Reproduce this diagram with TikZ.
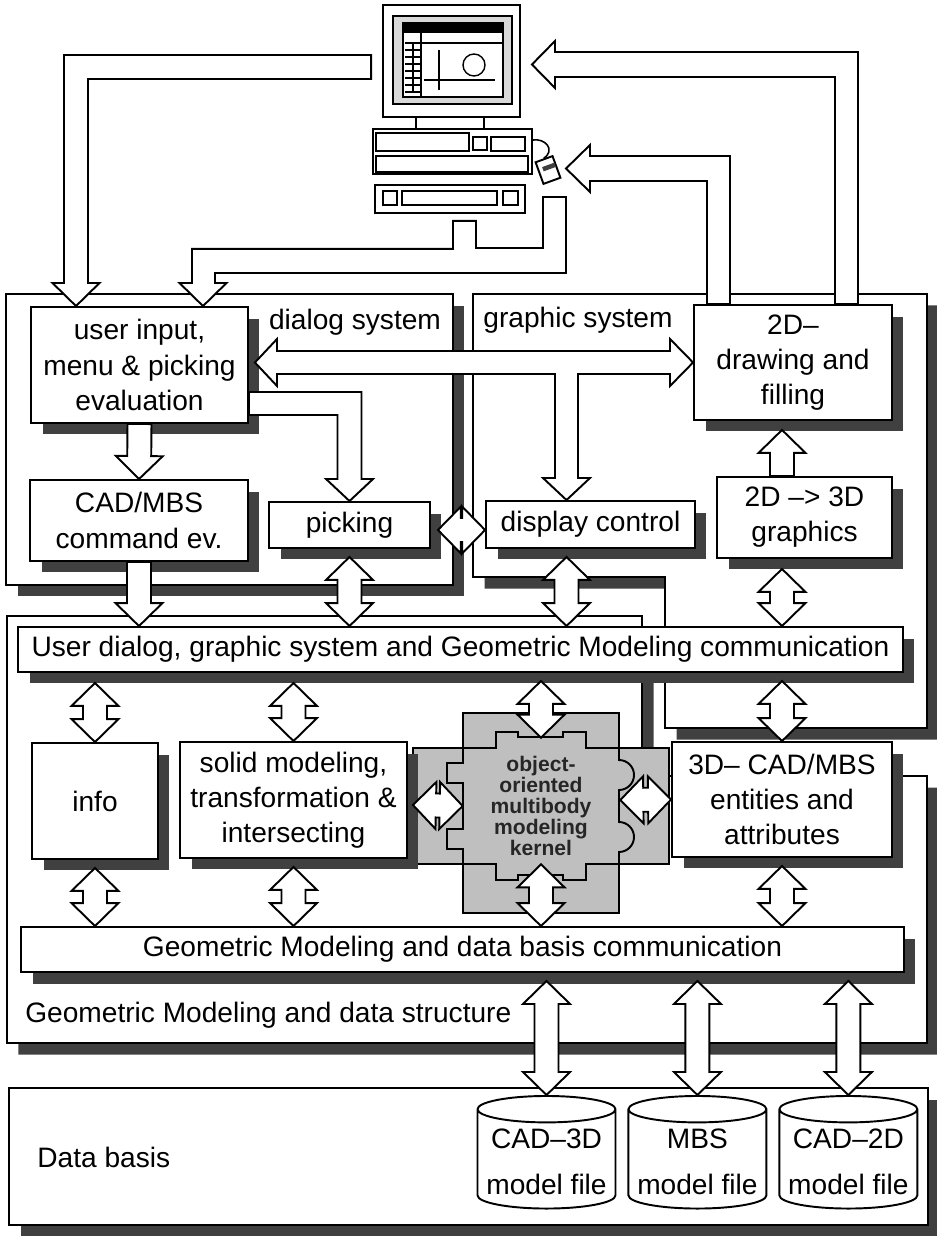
\documentclass[tikz,border=0pt]{standalone}
\usepackage{fontspec}
\setmainfont{Liberation Sans}
\usetikzlibrary{positioning, calc, shapes.geometric, shadows}

% hollow block arrows: head length, half head width, half shaft width
\newcommand*{\headlen}{0.46cm}
\newcommand*{\headhalf}{0.47cm}
\newcommand*{\shafthalf}{0.24cm}

\begin{document}
\begin{tikzpicture}[
    x=0.02cm, y=-0.02cm,
    every node/.style={font=\fontsize{16}{20}\selectfont},
    boxshadow/.style={drop shadow={shadow xshift=0.23cm, shadow yshift=-0.23cm, fill=black!75, opacity=1}},
    sysframe/.style={draw, line width=1.1pt, fill=white, boxshadow},
    blockbox/.style={rectangle, draw, line width=1.1pt, fill=white, boxshadow, align=center, inner sep=1mm},
    device/.style={rectangle, draw, line width=1.1pt, fill=white, inner sep=0pt},
    dbfile/.style={cylinder, shape border rotate=90, shape aspect=0.2, draw, line width=1.1pt, fill=white,
      minimum width=2.76cm, minimum height=2.12cm, align=center, font=\fontsize{16}{26}\selectfont},
    lbl/.style={inner sep=0pt},
    fat/.style={draw, line width=1.1pt, fill=white, line join=miter},
    fatone/.style={fat, to path={
      -- ($(\tikztostart)!\shafthalf!90:(\tikztotarget)$)
      -- ($(\tikztotarget)!\headlen!(\tikztostart)!\shafthalf!-90:(\tikztostart)$)
      -- ($(\tikztotarget)!\headlen!(\tikztostart)!\headhalf!-90:(\tikztostart)$)
      -- (\tikztotarget)
      -- ($(\tikztotarget)!\headlen!(\tikztostart)!\headhalf!90:(\tikztostart)$)
      -- ($(\tikztotarget)!\headlen!(\tikztostart)!\shafthalf!90:(\tikztostart)$)
      -- ($(\tikztostart)!\shafthalf!-90:(\tikztotarget)$)
      -- cycle}},
    fatboth/.style={fat, to path={
      -- ($(\tikztostart)!\headlen!(\tikztotarget)!\headhalf!90:(\tikztotarget)$)
      -- ($(\tikztostart)!\headlen!(\tikztotarget)!\shafthalf!90:(\tikztotarget)$)
      -- ($(\tikztotarget)!\headlen!(\tikztostart)!\shafthalf!-90:(\tikztostart)$)
      -- ($(\tikztotarget)!\headlen!(\tikztostart)!\headhalf!-90:(\tikztostart)$)
      -- (\tikztotarget)
      -- ($(\tikztotarget)!\headlen!(\tikztostart)!\headhalf!90:(\tikztostart)$)
      -- ($(\tikztotarget)!\headlen!(\tikztostart)!\shafthalf!90:(\tikztostart)$)
      -- ($(\tikztostart)!\headlen!(\tikztotarget)!\shafthalf!-90:(\tikztotarget)$)
      -- ($(\tikztostart)!\headlen!(\tikztotarget)!\headhalf!-90:(\tikztotarget)$)
      -- cycle}}
  ]
  \useasboundingbox (0,0) rectangle (936,1236);

  % system frames
  \draw[sysframe] (7,616) -- (642,616) -- (642,776) -- (927,776) -- (927,1043) -- (7,1043) -- cycle;
  \draw[sysframe] (473,294) -- (927,294) -- (927,728) -- (665,728) -- (665,577) -- (473,577) -- cycle;
  \node[sysframe, rectangle, inner sep=0pt, minimum width=8.94cm, minimum height=5.82cm] (dlgsys) at (229.5,439.5) {};
  \node[sysframe, rectangle, inner sep=0pt, minimum width=18.38cm, minimum height=2.74cm] (dbsys) at (468.5,1156.5) {};

  \node[lbl, anchor=base] (dlglabel) at (355,330) {dialog system};
  \node[lbl, anchor=base] (graphlabel) at (578,328) {graphic system};
  \node[lbl, anchor=base west] (gmlabel) at (25,1022) {Geometric Modeling and data structure};
  \node[lbl, anchor=base west] (dblabel) at (37,1167) {Data basis};

  % communication bars
  \node[blockbox, minimum width=17.70cm, minimum height=0.90cm, inner sep=0pt] (dlgbar) at (460.5,649.5)
    {User dialog, graphic system and Geometric Modeling communication};
  \node[blockbox, minimum width=17.66cm, minimum height=0.90cm] (dbbar) at (462.5,949.5)
    {Geometric Modeling and data basis communication};

  % modeling kernel (puzzle piece on a grey cross)
  \coordinate (kc) at (541,806);
  \begin{scope}[shift={(kc)}]
    \draw[line width=1.1pt, fill=black!25] (-78,-93) -- (78,-93) -- (78,-58) -- (128,-58) -- (128,58)
      -- (78,58) -- (78,107) -- (-78,107) -- (-78,58) -- (-128,58) -- (-128,-58) -- (-78,-58) -- cycle;
    \draw[line width=1.1pt, fill=black!25] (-78,-58) -- (-45,-58) -- (-45,-74) -- (-23,-74) -- (-23,-69)
      -- (22,-69) -- (22,-74) -- (45,-74) -- (45,-58) -- (78,-58) -- (78,-46)
      arc[start angle=90, end angle=-90, radius=0.3cm] -- (78,16)
      arc[start angle=90, end angle=-90, radius=0.3cm] -- (78,58)
      -- (45,58) -- (45,74) -- (22,74) -- (22,69) -- (-23,69) -- (-23,74) -- (-45,74) -- (-45,58)
      -- (-78,58) -- (-78,43) -- (-94,43) -- (-94,23) -- (-78,23) -- (-78,-23) -- (-94,-23)
      -- (-94,-43) -- (-78,-43) -- cycle;
  \end{scope}
  \node[minimum width=3.12cm, minimum height=2.32cm, inner sep=0pt, align=center, text=black!85,
    font=\fontsize{12}{12}\selectfont\bfseries] (kernel) at (kc)
    {object-\\oriented\\multibody\\modeling\\kernel};
  \coordinate (kerneltop) at ($(kernel.north)+(0,-10)$);

  % boxes
  \node[blockbox, minimum width=4.34cm, minimum height=2.32cm] (userin) at (139.5,365)
    {user input,\\menu \& picking\\evaluation};
  \node[blockbox, minimum width=4.36cm, minimum height=1.62cm] (cmdev) at (139,520.5)
    {CAD/MBS\\command ev.};
  \node[blockbox, minimum width=3.22cm, minimum height=0.92cm] (picking) at (349.5,525) {picking};
  \node[blockbox, minimum width=4.18cm, minimum height=0.94cm] (dispctl) at (590.5,524.5) {display control};
  \node[blockbox, minimum width=3.96cm, minimum height=2.30cm] (draw2d) at (793,362.5)
    {2D--\\drawing and\\filling};
  \node[blockbox, minimum width=3.50cm, minimum height=1.62cm] (graph3d) at (804.5,517.5)
    {2D --> 3D\\graphics};
  \node[blockbox, minimum width=2.52cm, minimum height=2.32cm] (info) at (95,801) {info};
  \node[blockbox, minimum width=4.54cm, minimum height=2.32cm] (solid) at (293.5,800)
    {solid modeling,\\transformation \&\\intersecting};
  \node[blockbox, minimum width=4.40cm, minimum height=2.30cm] (cad3d) at (782,799.5)
    {3D-- CAD/MBS\\entities and\\attributes};
  \coordinate (d2dbot) at ($(draw2d.south -| 782,0)+(0,9)$);

  % model files
  \node[dbfile] (cyl3d) at (546.5,1162) {CAD--3D\\model file};
  \node[dbfile, right=0.22cm of cyl3d] (cylmbs) {MBS\\model file};
  \node[dbfile, right=0.22cm of cylmbs] (cyl2d) {CAD--2D\\model file};

  % workstation
  \node[device, minimum width=2.74cm, minimum height=2.24cm] (monitor) at (451.5,61) {};
  \draw[line width=0.8pt, fill=black!15] (393,16) rectangle (512,104);
  \draw[line width=0.8pt, fill=white] (403,23) rectangle (503,97);
  \fill (403,23) rectangle (503,33);
  \draw[line width=0.8pt] (421,33) -- (421,97) (421,43) -- (503,43) (413,43) -- (413,93);
  \foreach \gy in {43,50,...,93}
    \draw[line width=0.8pt] (405,\gy) -- (421,\gy);
  \draw[line width=0.8pt] (439,50) -- (439,90) (424,80) -- (495,80);
  \draw[line width=0.8pt] (474,65) circle[radius=0.22cm];
  \node[device, minimum width=3.18cm, minimum height=0.90cm] (computer) at (452.5,151.5) {};
  \draw[line width=1.1pt] (416,117) -- (416,129) (484,117) -- (484,129);
  \draw[line width=0.9pt] (376,133) rectangle (469,151) (473,137) rectangle (487,150)
    (491,137) rectangle (525,151) (376,156) rectangle (528,172);
  \node[device, minimum width=3.00cm, minimum height=0.56cm] (keyboard) at (450,199) {};
  \draw[line width=0.9pt] (383,191) rectangle (397,205) (402,191) rectangle (497,205)
    (503,191) rectangle (518,205);
  \node[device, rotate=20, minimum width=0.36cm, minimum height=0.46cm] (mouse) at (548,170) {};
  \node[fill=black!75, rotate=20, minimum width=0.26cm, minimum height=0.09cm, inner sep=0pt]
    (mousekey) at ($(mouse.center)+(1,-3)$) {};
  \draw[line width=0.9pt] (computer.east |- 0,140) .. controls (545,138) and (556,150) .. (mouse.north);

  % block arrows of the workstation
  \draw[fat] ($(monitor.west)+(-11,-6)$) -| (64,283) -- (52.5,283) -- (userin.north -| 76,0)
    -- (99.5,283) -- (88,283) |- ($(monitor.west)+(-11,18)$) -- cycle;
  \draw[fat] ($(keyboard.south)+(3,7)$) -- ++(23,0) |- (543,248) |- (566,197) |- (215,273)
    -- (215,283) -- (226.5,283) -- (userin.north -| 203,0) -- (179.5,283) -- (192,283)
    |- ($(keyboard.south)+(3,35)$) -- cycle;
  \draw[fat] (draw2d.north -| 835,0) |- (555,77) -- (555,88) -- ($(monitor.east)+(11,3.5)$)
    -- (555,41) -- (555,52) -| (draw2d.north -| 858,0) -- cycle;
  \draw[fat] (draw2d.north -| 707,0) |- (590,181) -- (590,192) -- ($(mouse.center)+(18,-1.5)$)
    -- (590,145) -- (590,156) -| (draw2d.north -| 730,0) -- cycle;

  % dialog and graphic system
  \draw[fat] ($(userin.east)+(6,-2.5)$) -- (277,339) -- (277,351) -- (670,351) -- (670,339)
    -- (draw2d.west) -- (670,386) -- (670,374) -- (578,374) -- (578,478) -- (590,478)
    -- (dispctl.north -| 566.5,0) -- (543,478) -- (555,478) -- (555,374) -- (277,374)
    -- (277,386) -- cycle;
  \draw[fat] ($(userin.east)+(0,27)$) -| (361.5,479) -- (373,479) -- (picking.north)
    -- (326,479) -- (337.5,479) |- ($(userin.east)+(0,50)$) -- cycle;
  \draw[fatone] (userin.south) to (cmdev.north);
  \draw[fatone] (cmdev.south) to (dlgbar.north -| cmdev.south);
  \draw[fatboth] ($(picking.east)+(7,5)$) to (dispctl.west |- 0,530);
  \draw[fatboth] ($(picking.south)+(0,8)$) to (dlgbar.north -| picking.south);
  \draw[fatboth] ($(dispctl.south -| 566.5,0)+(0,8)$) to (dlgbar.north -| 566.5,0);
  \draw[fatboth] ($(graph3d.south -| 782,0)+(0,10)$) to (dlgbar.north -| 782,0);
  \draw[fatone] (graph3d.north -| 782,0) to (d2dbot);

  % geometric modeling
  \draw[fatboth] ($(dlgbar.south -| info.north)+(0,10)$) to (info.north);
  \draw[fatboth] ($(dlgbar.south -| solid.north)+(0,10)$) to (solid.north);
  \draw[fatboth] ($(dlgbar.south -| kernel.north)+(0,8)$) to (kerneltop);
  \draw[fatboth] ($(dlgbar.south -| cad3d.north)+(0,8)$) to (cad3d.north);
  \draw[fatboth] ($(solid.east)+(5,5)$) to (kernel.west);
  \draw[fatboth] ($(kernel.east)+(1,-6)$) to (cad3d.west);
  \draw[fatboth] ($(info.south)+(0,8)$) to (dbbar.north -| info.south);
  \draw[fatboth] ($(solid.south)+(0,8)$) to (dbbar.north -| solid.south);
  \draw[fatboth] (kernel.south) to (dbbar.north -| kernel.south);
  \draw[fatboth] ($(cad3d.south)+(0,8)$) to (dbbar.north -| cad3d.south);

  % data basis
  \draw[fatboth] ($(dbbar.south -| cyl3d.north)+(0,8)$) to (cyl3d.north);
  \draw[fatboth] ($(dbbar.south -| cylmbs.north)+(0,8)$) to (cylmbs.north);
  \draw[fatboth] ($(dbbar.south -| cyl2d.north)+(0,8)$) to (cyl2d.north);
\end{tikzpicture}
\end{document}
